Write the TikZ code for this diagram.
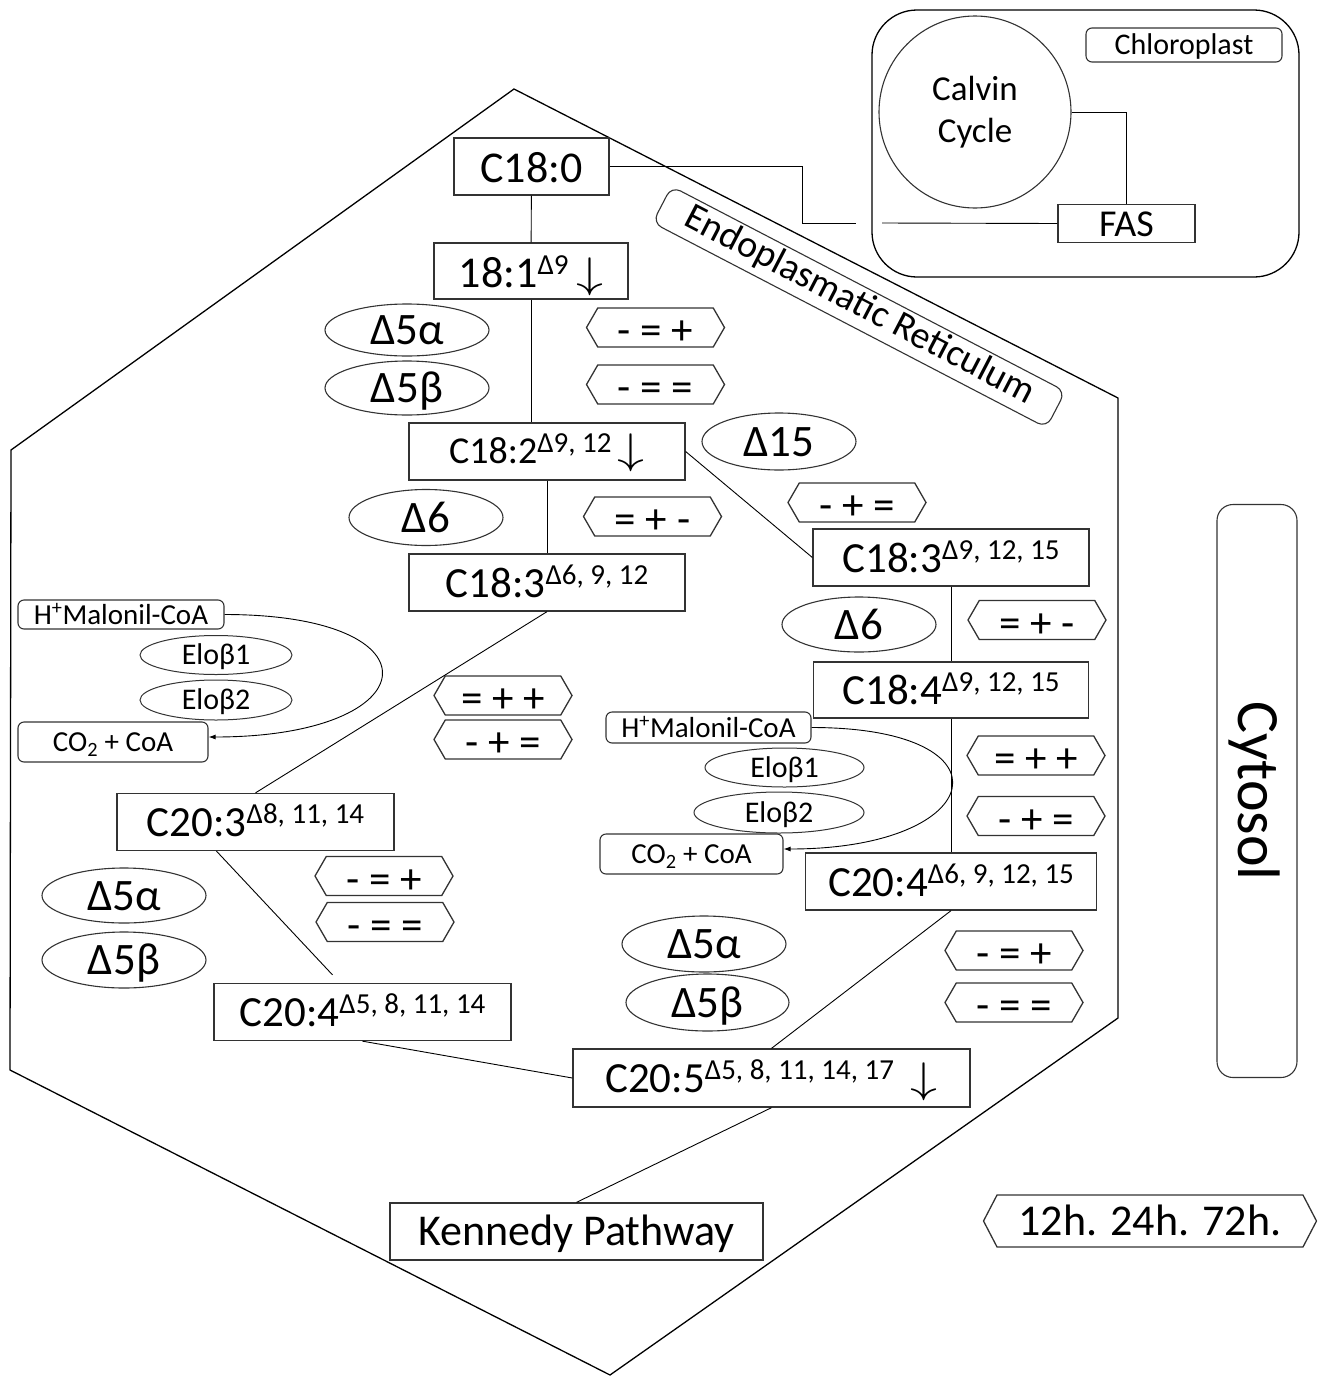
\documentclass[tikz,border=0pt]{standalone}
\usepackage{graphicx}
\usepackage{fontspec}
\setmainfont{Carlito}
\usetikzlibrary{shapes.geometric,shapes.symbols,arrows.meta}

\newcommand{\fsz}[1]{\fontsize{#1}{#1}\selectfont}
\newcommand{\upidx}[1]{\raisebox{13pt}{\fsz{29}#1}}
\newcommand{\dnarrow}{\,\resizebox*{27pt}{38pt}{$\downarrow$}}

\tikzset{
  acid/.style={draw=black!80, line width=1.3pt, rectangle, inner sep=0pt,
    minimum width=275pt, minimum height=56pt, text height=37pt, text depth=8pt, font=\fsz{43}},
  enz/.style={draw=black!80, line width=1.1pt, ellipse, inner sep=0pt,
    minimum width=164pt, minimum height=55pt, text height=29pt, text depth=0pt, font=\fsz{45}},
  trend/.style={draw=black!80, line width=1.3pt, signal, signal to=east and west,
    signal pointer angle=120, inner sep=0pt, minimum width=138pt, minimum height=39pt,
    text height=34pt, text depth=0pt, font=\fsz{43}},
  elo/.style={draw=black!80, line width=1pt, ellipse, inner sep=0pt,
    minimum width=152pt, minimum height=39pt, text height=19pt, text depth=0pt, font=\fsz{30}},
  tag/.style={draw=black!80, line width=1.1pt, rounded corners=6pt, inner sep=0pt,
    text height=19pt, text depth=0pt, font=\fsz{29}},
  conn/.style={line width=0.9pt},
}

\begin{document}
\begin{tikzpicture}[x=1pt,y=-1pt]
\useasboundingbox (0,0) rectangle (1320,1376);

% membranes
\draw[line width=1.3pt] (514,89) -- (1118,398) -- (1118,1018) -- (610,1375) -- (10,1070) -- (11,450) -- cycle;
\draw[line width=1.3pt, rounded corners=45pt] (872,10) rectangle (1299,277);

% chloroplast
\node[tag, minimum width=196pt, minimum height=34pt, text height=19pt, font=\fsz{30}] (chlorotag) at (1184,45) {Chloroplast};
\node[draw=black!80, line width=1.1pt, circle, minimum size=192pt, inner sep=0pt, align=center, font=\fsz{35}] (calvin) at (975,112) {Calvin\\[7pt]Cycle};
\node[acid, minimum width=137pt, minimum height=38pt, text height=25pt, text depth=0pt, font=\fsz{38}] (FAS) at (1126.5,223.5) {FAS};
\coordinate (bend) at (802,223);
\coordinate (gapL) at (856,223);
\coordinate (gapR) at (882,223);

% labels
\node[draw=black!80, line width=1.1pt, rounded corners=10pt, rotate=-27.5, minimum width=444pt, minimum height=41pt, inner sep=0pt, text height=25pt, text depth=8pt, font=\fsz{38}] (er) at (859,307) {Endoplasmatic Reticulum};
\node[draw=black!80, line width=1.1pt, rounded corners=16pt, rotate=-90, minimum width=573pt, minimum height=80pt, inner sep=0pt, text height=38pt, text depth=0pt, font=\fsz{60}] (cytosol) at (1257,791) {Cytosol};
\node[trend, minimum width=333pt, minimum height=52pt, signal pointer angle=125, text height=28pt, font=\fsz{44}] (hours) at (1150,1221) {12h. 24h. 72h.};

% fatty acids
\node[acid, minimum width=155pt, minimum height=57pt, text height=39pt, font=\fsz{44}] (C180) at (531.5,166.5) {C18:0};
\node[acid, minimum width=194pt, text height=40pt, font=\fsz{44}] (C181) at (531,271) {18:1\upidx{Δ9}\dnarrow};
\node[acid, minimum width=276pt, minimum height=57pt, text height=31pt, font=\fsz{38}] (C182) at (547,451.5) {C18:2\raisebox{11pt}{\fsz{29}Δ9, 12}\dnarrow};
\node[acid, minimum width=276pt, minimum height=57pt] (C183a) at (547,582.5) {C18:3\upidx{Δ6, 9, 12}};
\node[acid, minimum width=276pt, minimum height=57pt] (C183b) at (951,557.5) {C18:3\upidx{Δ9, 12, 15}};
\node[acid] (C184) at (951,690) {C18:4\upidx{Δ9, 12, 15}};
\node[acid, minimum width=277pt, minimum height=57pt] (C203) at (255.5,822) {C20:3\upidx{Δ8, 11, 14}};
\node[acid, minimum width=297pt, minimum height=57pt] (C204a) at (362.5,1012) {C20:4\upidx{Δ5, 8, 11, 14}};
\node[acid, minimum width=291pt, minimum height=57pt] (C204b) at (951,881.5) {C20:4\upidx{Δ6, 9, 12, 15}};
\node[acid, minimum width=397pt, minimum height=58pt] (C205) at (771.5,1078) {C20:5\upidx{Δ5, 8, 11, 14, 17} \dnarrow};
\node[acid, minimum width=373pt, minimum height=57pt, text height=35pt, font=\fsz{44}] (kennedy) at (576.5,1231.5) {Kennedy Pathway};

% desaturases
\node[enz, minimum height=52pt] (D5a1) at (407,330) {Δ5α};
\node[enz, minimum height=54pt] (D5b1) at (407,388) {Δ5β};
\node[enz, minimum width=154pt, minimum height=57pt] (D15) at (779,441.5) {Δ15};
\node[enz, minimum width=154pt, minimum height=56pt] (D6a) at (426,517.5) {Δ6};
\node[enz, minimum width=154pt] (D6b) at (859,624.5) {Δ6};
\node[enz] (D5a2) at (124,895.5) {Δ5α};
\node[enz, minimum height=56pt] (D5b2) at (124,960) {Δ5β};
\node[enz, minimum height=56pt] (D5a3) at (704,944) {Δ5α};
\node[enz, minimum width=163pt, minimum height=57pt] (D5b3) at (707.5,1002.5) {Δ5β};

% expression trends
\node[trend] (t1) at (655.5,327.5) {- = +};
\node[trend] (t2) at (655.5,384.5) {- = =};
\node[trend] (t3) at (652.5,516.5) {= + -};
\node[trend] (t4) at (857,502.5) {- + =};
\node[trend] (t5) at (1037,620) {= + -};
\node[trend] (t6) at (503,695.5) {= + +};
\node[trend] (t7) at (503,739.5) {- + =};
\node[trend] (t8) at (1036,755.5) {= + +};
\node[trend] (t9) at (1036,816) {- + =};
\node[trend] (t10) at (384,876) {- = +};
\node[trend] (t11) at (385,922) {- = =};
\node[trend] (t12) at (1014,950.5) {- = +};
\node[trend] (t13) at (1014,1002.5) {- = =};

% elongases
\node[tag, minimum width=206pt, minimum height=29pt] (mall) at (121,614.5) {H\textsuperscript{+}Malonil-CoA};
\node[elo] (elo1l) at (216,655) {Eloβ1};
\node[elo, minimum height=40pt] (elo2l) at (216,700) {Eloβ2};
\node[tag, minimum width=190pt, minimum height=40pt] (coal) at (113,742) {CO\textsubscript{2} + CoA};
\node[tag, minimum width=205pt, minimum height=31pt] (malr) at (708.5,727.5) {H\textsuperscript{+}Malonil-CoA};
\node[elo, minimum width=159pt] (elo1r) at (784.5,767.5) {Eloβ1};
\node[elo, minimum width=170pt, minimum height=41pt] (elo2r) at (779,812.5) {Eloβ2};
\node[tag, minimum width=183pt, minimum height=40pt] (coar) at (691.5,854) {CO\textsubscript{2} + CoA};

% connectors
\draw[conn] (C180.east) -| (bend) -- (gapL);
\draw[conn] (gapR) -- (FAS.west);
\draw[conn] (calvin.east) -| (FAS.north);
\draw[conn] (C180) -- (C181);
\draw[conn] (C181.south) -- (C181.south |- C182.north);
\draw[conn] (C182) -- (C183a);
\draw[conn] (C182.east) -- (C183b.west);
\draw[conn] (C183a.south) -- (C203.north);
\draw[conn] ([xshift=-39pt]C203.south) -- ([xshift=-30pt,yshift=8pt]C204a.north);
\draw[conn] (C204a.south) -- (C205.west);
\draw[conn] (C183b) -- (C184);
\draw[conn] (C184) -- (C204b);
\draw[conn] (C204b.south) -- (C205.north);
\draw[conn] (C205.south) -- (kennedy.north);
\draw[conn, -{Latex[length=7pt,width=5pt]}] (mall.east) .. controls +(220,0) and +(220,0) .. ([yshift=5pt]coal.east);
\draw[conn, -{Latex[length=7pt,width=5pt]}] (malr.east) .. controls +(205,0) and +(205,0) .. ([yshift=5pt]coar.east);
\end{tikzpicture}
\end{document}
